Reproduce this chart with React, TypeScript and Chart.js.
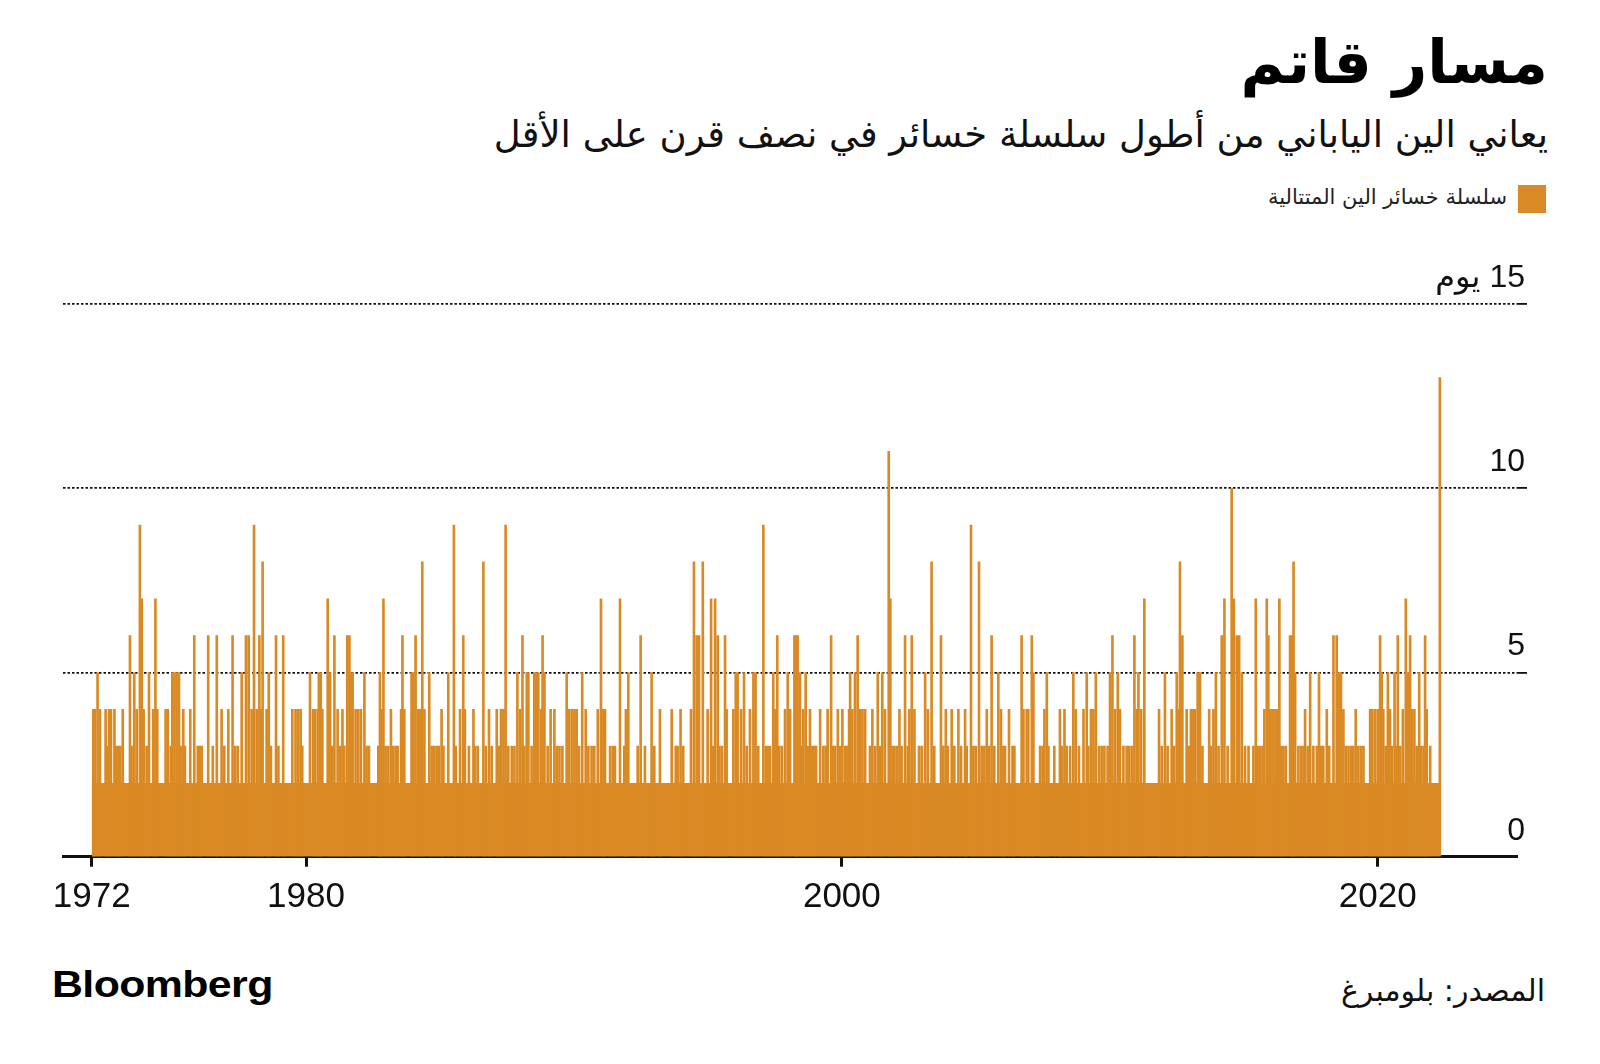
import React, { useEffect, useRef } from "react";
import { Chart, registerables } from "chart.js";

Chart.register(...registerables);

const TITLE = "مسار قاتم";
const SUBTITLE = "يعاني الين الياباني من أطول سلسلة خسائر في نصف قرن على الأقل";
const LEGEND_LABEL = "سلسلة خسائر الين المتتالية";
const SOURCE = "المصدر: بلومبرغ";
const BRAND = "Bloomberg";

const BAR_COLOR = "#DA8A24";

const xTickValues = [1972, 1980, 2000, 2020];
const yTickValues = [0, 5, 10, 15];
const yTickLabels = ["0", "5", "10", "15 يوم"];

// Short (one/two-day) streaks fill the whole period at 2 days
const floorDates = [1972.0, 2022.32];
const floorDays = [2, 2];

// Longer losing streaks (decimal year, streak length in days)
const streakDates = [
  1972.06, 1972.12, 1972.22, 1972.31, 1972.52, 1972.58, 1972.65, 1972.72, 1972.85, 1972.91,
  1972.99, 1973.07, 1973.16, 1973.43, 1973.49, 1973.59, 1973.68, 1973.8, 1973.87, 1973.94,
  1974.05, 1974.14, 1974.3, 1974.38, 1974.45, 1974.76, 1974.84, 1974.95, 1975.01, 1975.09,
  1975.17, 1975.26, 1975.32, 1975.42, 1975.48, 1975.68, 1975.83, 1975.96, 1976.03, 1976.11,
  1976.35, 1976.52, 1976.67, 1976.85, 1976.95, 1977.1, 1977.26, 1977.35, 1977.45, 1977.6,
  1977.76, 1977.86, 1977.97, 1978.06, 1978.16, 1978.26, 1978.32, 1978.38, 1978.53, 1978.61,
  1978.69, 1978.88, 1978.97, 1979.15, 1979.49, 1979.61, 1979.71, 1979.8, 1979.86, 1980.15,
  1980.27,
  1980.34, 1980.44, 1980.48, 1980.55, 1980.61, 1980.81, 1980.9, 1980.96, 1981.06, 1981.18,
  1981.27, 1981.36, 1981.43, 1981.54, 1981.62, 1981.68, 1981.74, 1981.85, 1981.95, 1982.05,
  1982.18, 1982.26, 1982.35, 1982.7, 1982.76, 1982.82, 1982.89, 1982.97, 1983.07, 1983.17,
  1983.26, 1983.35, 1983.42, 1983.55, 1983.6, 1983.67, 1983.94, 1984.01, 1984.09, 1984.19,
  1984.26, 1984.34, 1984.42, 1984.6, 1984.69, 1984.79, 1984.88, 1984.96, 1985.06, 1985.13,
  1985.31, 1985.52, 1985.59, 1985.75, 1985.87, 1985.93, 1986.08, 1986.25, 1986.31, 1986.41,
  1986.62, 1986.71, 1986.83, 1986.93, 1987.12, 1987.2, 1987.28, 1987.37, 1987.45, 1987.55,
  1987.68, 1987.78, 1987.89, 1987.99, 1988.08, 1988.15, 1988.24, 1988.3, 1988.42, 1988.52,
  1988.59, 1988.67, 1988.77, 1988.83, 1988.9,
  1989.02, 1989.13, 1989.27, 1989.36, 1989.46, 1989.57, 1989.73, 1989.82, 1989.92, 1990.02,
  1990.1, 1990.19, 1990.31, 1990.44, 1990.54, 1990.66, 1990.76, 1990.89, 1991.01, 1991.1,
  1991.16, 1991.35, 1991.45, 1991.53, 1991.72, 1991.88, 1991.94, 1992.03, 1992.38, 1992.49,
  1992.65, 1992.9, 1993.0, 1993.21, 1993.65, 1993.8, 1993.87, 1993.98, 1994.08, 1994.37,
  1994.48, 1994.58, 1994.67, 1994.81, 1994.99, 1995.12, 1995.2, 1995.27, 1995.37, 1995.43,
  1995.52, 1995.64, 1995.7, 1995.95, 1996.04, 1996.11, 1996.24, 1996.35, 1996.45, 1996.57,
  1996.7, 1996.78, 1996.88, 1997.07, 1997.16, 1997.23, 1997.32, 1997.44,
  1997.51, 1997.59, 1997.66, 1997.76, 1997.88, 1997.98, 1998.07, 1998.23, 1998.29, 1998.35,
  1998.44, 1998.5, 1998.56, 1998.65, 1998.73, 1998.81, 1998.9, 1998.97, 1999.04, 1999.19,
  1999.31, 1999.4, 1999.47, 1999.6, 1999.68, 1999.75, 1999.85, 1999.93, 2000.02, 2000.12,
  2000.18, 2000.27, 2000.31, 2000.39, 2000.49, 2000.59, 2000.68, 2000.77, 2000.87, 2001.05,
  2001.14, 2001.24, 2001.34, 2001.43, 2001.51, 2001.61, 2001.75, 2001.81, 2001.89, 2001.96,
  2002.05, 2002.15, 2002.23, 2002.36, 2002.46, 2002.52, 2002.61, 2002.71, 2002.88, 2002.98,
  2003.11, 2003.21, 2003.35, 2003.45, 2003.7, 2003.79, 2003.88, 2003.95, 2004.1, 2004.2,
  2004.35, 2004.45, 2004.6, 2004.66, 2004.82, 2004.91, 2005.0, 2005.12, 2005.22, 2005.32,
  2005.41, 2005.5, 2005.59, 2005.69, 2005.84, 2005.94, 2006.03,
  2006.09, 2006.24, 2006.37, 2006.44, 2006.71, 2006.78, 2006.9, 2006.96, 2007.09, 2007.15,
  2007.4, 2007.49, 2007.56, 2007.65, 2007.71, 2007.93, 2008.14, 2008.21, 2008.31, 2008.39,
  2008.52, 2008.64, 2008.73, 2008.85, 2009.02, 2009.14, 2009.2, 2009.3, 2009.39, 2009.48,
  2009.6, 2009.7, 2009.8, 2009.92, 2010.01, 2010.1, 2010.2, 2010.3, 2010.38, 2010.51,
  2010.63, 2010.72, 2010.82, 2010.92, 2011.01, 2011.07, 2011.17, 2011.29, 2011.84, 2011.94,
  2012.06, 2012.16, 2012.31, 2012.4, 2012.5, 2012.56, 2012.62, 2012.71, 2012.87, 2012.96,
  2013.03, 2013.12, 2013.18, 2013.28, 2013.37, 2013.46, 2013.71, 2013.78, 2013.87, 2013.96,
  2014.06, 2014.18, 2014.28, 2014.4, 2014.55, 2014.63,
  2014.74, 2014.83, 2014.93, 2015.05, 2015.18, 2015.36, 2015.45, 2015.52, 2015.61, 2015.7,
  2015.77, 2015.86, 2015.92, 2015.98, 2016.07, 2016.15, 2016.23, 2016.33, 2016.39, 2016.48,
  2016.57, 2016.73, 2016.79, 2016.86, 2016.92, 2017.04, 2017.14, 2017.23, 2017.29, 2017.39,
  2017.48, 2017.6, 2017.73, 2017.81, 2017.89, 2017.97, 2018.1, 2018.19, 2018.35, 2018.47,
  2018.56, 2018.63, 2018.72, 2018.81, 2018.91, 2019.01, 2019.09, 2019.18, 2019.28, 2019.38,
  2019.47, 2019.72, 2019.8, 2019.9, 2020.0, 2020.09, 2020.15, 2020.21, 2020.3, 2020.38,
  2020.46, 2020.53, 2020.63, 2020.71, 2020.75, 2020.84, 2020.94, 2021.05, 2021.12, 2021.21,
  2021.27, 2021.37, 2021.46, 2021.55, 2021.62, 2021.71, 2021.77, 2021.83, 2021.96, 2022.32,
];

const streakDays = [
  4, 4, 5, 4, 4, 3, 4, 4, 4, 3,
  3, 3, 4, 6, 3, 5, 4, 9, 7, 4,
  3, 5, 4, 7, 4, 4, 4, 3, 5, 5,
  5, 5, 3, 4, 3, 4, 6, 3, 3, 3,
  6, 3, 6, 4, 3, 4, 6, 3, 3, 5,
  6, 6, 4, 9, 4, 6, 4, 8, 4, 5,
  3, 6, 3, 6, 4, 4, 4, 4, 3, 5,
  4,
  4, 4, 5, 5, 4, 7, 5, 3, 6, 4,
  3, 4, 3, 6, 6, 5, 5, 4, 4, 4,
  5, 3, 3, 3, 5, 4, 7, 3, 3, 4,
  3, 3, 3, 4, 6, 4, 5, 5, 6, 4,
  4, 8, 4, 5, 3, 3, 3, 3, 4, 3,
  5, 9, 3, 4, 6, 4, 3, 4, 3, 3,
  8, 3, 4, 3, 4, 3, 4, 4, 9, 3,
  3, 3, 5, 4, 6, 3, 5, 5, 3, 5,
  5, 5, 4, 6, 5,
  3, 4, 4, 3, 3, 3, 5, 4, 4, 4,
  4, 3, 5, 4, 3, 3, 3, 4, 7, 4,
  4, 3, 3, 3, 7, 3, 4, 5, 3, 6,
  3, 5, 3, 4, 4, 3, 3, 4, 3, 4,
  8, 6, 6, 8, 4, 7, 3, 7, 6, 3,
  3, 6, 4, 4, 5, 5, 4, 5, 3, 4,
  5, 5, 3, 9, 3, 3, 3, 5,
  4, 6, 3, 3, 4, 5, 4, 6, 6, 6,
  5, 3, 4, 5, 3, 4, 3, 3, 3, 4,
  3, 3, 4, 6, 3, 3, 4, 3, 4, 3,
  3, 4, 5, 4, 5, 6, 4, 4, 4, 3,
  4, 3, 5, 3, 5, 4, 11, 7, 3, 3,
  3, 4, 3, 6, 3, 4, 6, 4, 3, 3,
  5, 4, 8, 3, 6, 3, 4, 3, 4, 3,
  4, 3, 4, 3, 9, 3, 3, 8, 3, 3,
  4, 3, 6, 3, 5, 4, 3,
  3, 4, 3, 3, 6, 4, 4, 4, 6, 5,
  3, 3, 4, 5, 3, 3, 4, 3, 4, 3,
  3, 5, 4, 3, 4, 5, 3, 4, 4, 5,
  3, 3, 3, 3, 5, 6, 4, 5, 4, 3,
  3, 3, 3, 6, 4, 5, 4, 7, 4, 3,
  5, 3, 4, 3, 5, 4, 8, 6, 4, 3,
  4, 4, 4, 5, 5, 3, 4, 3, 4, 5,
  3, 6, 7, 3, 10, 7,
  6, 6, 5, 3, 3, 3, 7, 3, 3, 3,
  4, 7, 6, 4, 4, 4, 4, 7, 3, 3,
  3, 6, 6, 8, 5, 3, 3, 3, 4, 3,
  5, 3, 3, 5, 3, 3, 4, 3, 6, 6,
  5, 5, 4, 3, 3, 3, 3, 4, 3, 3,
  3, 4, 4, 4, 4, 6, 5, 4, 3, 5,
  4, 3, 5, 3, 6, 3, 4, 7, 5, 6,
  4, 4, 3, 5, 3, 3, 6, 4, 3, 13,
];

const AR_FONT = '"DejaVu Sans", sans-serif';
const NUM_FONT = '"Liberation Sans", "DejaVu Sans", sans-serif';

export default function App() {
  const canvasRef = useRef<HTMLCanvasElement | null>(null);

  useEffect(() => {
    const canvas = canvasRef.current;
    if (!canvas) return;

    const yLabelPlugin = {
      id: "yRightLabels",
      afterDraw(chart: any) {
        const s = chart.scales.y;
        const ctx = chart.ctx;
        ctx.save();
        ctx.font = '32px "Liberation Sans", "DejaVu Sans", sans-serif';
        ctx.fillStyle = "#111";
        ctx.textAlign = "right";
        (ctx as any).direction = "rtl";
        ctx.textBaseline = "alphabetic";
        s.ticks.forEach((t: any) => {
          const y = s.getPixelForValue(t.value) - 17;
          ctx.fillText(String(t.label), chart.chartArea.right + 8, y);
        });
        ctx.restore();
      },
    };

    const chart = new Chart(canvas, {
      type: "bar",
      data: {
        datasets: [
          {
            type: "line",
            data: floorDates.map((d, i) => ({ x: d, y: floorDays[i] })),
            backgroundColor: BAR_COLOR,
            borderWidth: 0,
            pointRadius: 0,
            fill: "origin",
            order: 2,
          } as any,
          {
            type: "bar",
            data: streakDates.map((d, i) => ({ x: d, y: streakDays[i] })),
            backgroundColor: BAR_COLOR,
            borderWidth: 0,
            barThickness: 2,
            order: 1,
          } as any,
        ],
      },
      options: {
        animation: false,
        responsive: false,
        maintainAspectRatio: false,
        layout: { padding: { top: 64, left: 63, right: 83, bottom: 23.3 } },
        plugins: {
          legend: { display: false },
          tooltip: { enabled: false },
        },
        scales: {
          x: {
            type: "linear",
            min: 1970.93,
            max: 2025.2,
            offset: false,
            afterBuildTicks: (scale: any) => {
              scale.ticks = xTickValues.map((v) => ({ value: v }));
            },
            afterFit: (scale: any) => {
              scale.height = 60;
            },
            ticks: {
              autoSkip: false,
              maxRotation: 0,
              padding: 10,
              color: "#111",
              font: { family: NUM_FONT, size: 35 },
              callback: (v: any) => String(v),
            },
            grid: {
              display: true,
              offset: false,
              drawOnChartArea: false,
              drawTicks: true,
              tickLength: 10,
              tickWidth: 3,
              tickColor: "#111",
            },
            border: { display: true, width: 3, color: "#111" },
          },
          y: {
            type: "linear",
            position: "right",
            min: 0,
            max: 15,
            afterBuildTicks: (scale: any) => {
              scale.ticks = yTickValues.map((v) => ({ value: v }));
            },
            afterFit: (scale: any) => {
              scale.width = 0;
            },
            ticks: {
              display: false,
              callback: (v: any) => {
                const i = yTickValues.indexOf(Number(v));
                return i >= 0 ? yTickLabels[i] : "";
              },
            },
            grid: {
              drawTicks: true,
              tickLength: 10,
              lineWidth: 1.8,
              color: (ctx: any) => (ctx.tick && ctx.tick.value === 0 ? "rgba(0,0,0,0)" : "#111"),
            },
            border: { display: false, dash: [2.5, 2] },
          },
        },
      },
      plugins: [yLabelPlugin],
    } as any);

    return () => chart.destroy();
  }, []);

  return (
    <div
      style={{
        position: "absolute",
        left: 0,
        top: 0,
        width: 1600,
        height: 1064,
        background: "#fff",
        overflow: "hidden",
      }}
    >
      <div
        dir="rtl"
        style={{
          position: "absolute",
          right: 52,
          top: 32,
          fontFamily: AR_FONT,
          fontWeight: 700,
          fontSize: 60,
          lineHeight: 1,
          color: "#000",
          whiteSpace: "nowrap",
        }}
      >
        {TITLE}
      </div>
      <div
        dir="rtl"
        style={{
          position: "absolute",
          right: 52,
          top: 116,
          fontFamily: AR_FONT,
          fontSize: 37,
          lineHeight: 1,
          color: "#111",
          whiteSpace: "nowrap",
        }}
      >
        {SUBTITLE}
      </div>
      <div
        style={{
          position: "absolute",
          left: 1518,
          top: 185,
          width: 28,
          height: 28,
          background: BAR_COLOR,
        }}
      />
      <div
        dir="rtl"
        style={{
          position: "absolute",
          right: 93,
          top: 187,
          fontFamily: AR_FONT,
          fontSize: 21,
          lineHeight: 1,
          color: "#222",
          whiteSpace: "nowrap",
        }}
      >
        {LEGEND_LABEL}
      </div>
      <canvas
        ref={canvasRef}
        width={1600}
        height={700}
        style={{ position: "absolute", left: 0, top: 240, width: 1600, height: 700 }}
      />
      <div
        style={{
          position: "absolute",
          left: 52,
          top: 967,
          fontFamily: '"Liberation Sans", Arial, sans-serif',
          fontWeight: 700,
          fontSize: 36,
          lineHeight: 1,
          color: "#000",
          letterSpacing: -0.5,
          transform: "scaleX(1.19)",
          transformOrigin: "left top",
          whiteSpace: "nowrap",
        }}
      >
        {BRAND}
      </div>
      <div
        dir="rtl"
        style={{
          position: "absolute",
          right: 55,
          top: 976,
          fontFamily: AR_FONT,
          fontSize: 30,
          lineHeight: 1,
          color: "#111",
          whiteSpace: "nowrap",
        }}
      >
        {SOURCE}
      </div>
    </div>
  );
}
